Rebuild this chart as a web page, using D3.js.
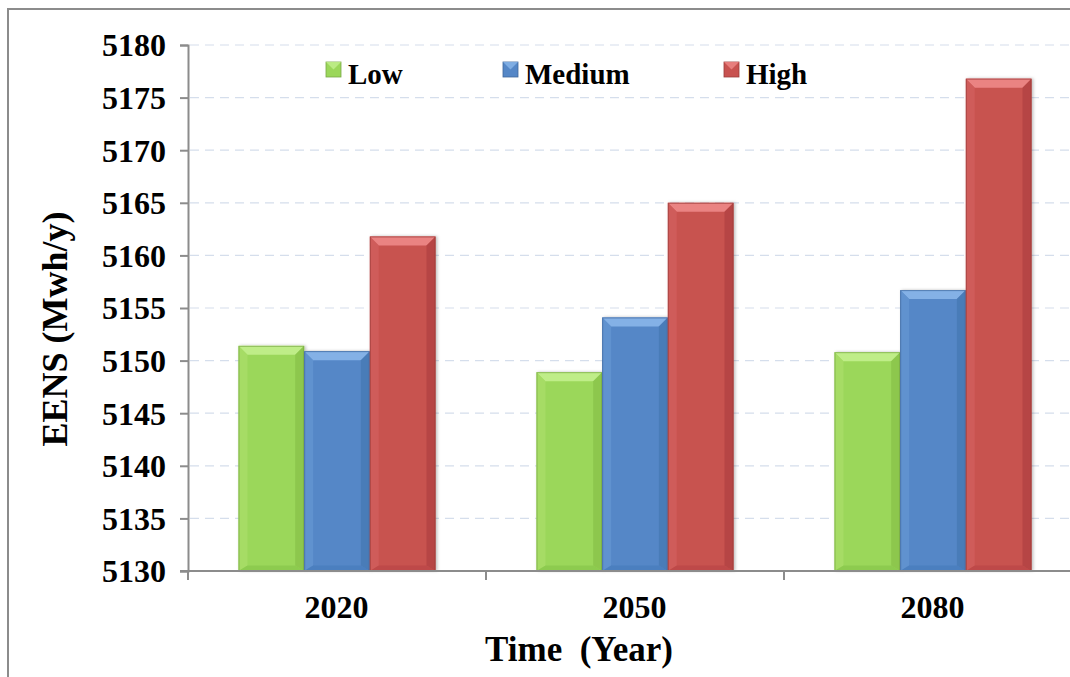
<!DOCTYPE html>
<html>
<head>
<meta charset="utf-8">
<script src="https://cdn.jsdelivr.net/npm/d3@7"></script>
<style>
  html, body { margin: 0; padding: 0; background: #fff; }
  svg { display: block; }
</style>
</head>
<body>
<svg id="chart" width="1070" height="677" font-family="Liberation Serif, Times New Roman, serif" font-weight="bold"></svg>
<script>
// Expected energy not supplied per scenario and year
const years = ["2020", "2050", "2080"];
const scenarios = ["Low", "Medium", "High"];
const lowValues = [5151.4, 5148.9, 5150.8];
const mediumValues = [5150.9, 5154.1, 5156.7];
const highValues = [5161.8, 5165.0, 5176.8];
const yTicks = [5130, 5135, 5140, 5145, 5150, 5155, 5160, 5165, 5170, 5175, 5180];

const FONT = "Liberation Serif, Times New Roman, serif";
const seriesValues = [lowValues, mediumValues, highValues];
const palette = {
  Low:    { base: "#9bd75a", top: "#bfed88", left: "#aee070", right: "#86bf48", bottom: "#8ac84c", edge: "#79a846" },
  Medium: { base: "#5587c7", top: "#84b1e6", left: "#6a9ad6", right: "#4574b0", bottom: "#4a7dbd", edge: "#3f679c" },
  High:   { base: "#c85250", top: "#ea8382", left: "#d66563", right: "#ac3f3d", bottom: "#bb4846", edge: "#9b3c3a" }
};

const svg = d3.select("#chart");
const margin = { left: 188, top: 45, bottom: 571, right: 1082 };

// Outer frame
svg.append("rect")
  .attr("x", 8).attr("y", 9)
  .attr("width", 1100).attr("height", 700)
  .attr("fill", "none").attr("stroke", "#8c8c8c").attr("stroke-width", 2);

const x = d3.scaleBand().domain(years).range([margin.left, margin.right]).paddingInner(0).paddingOuter(0);
const xSub = d3.scaleBand().domain(scenarios).range([50.5, x.bandwidth() - 50.5]).padding(0);
const y = d3.scaleLinear().domain([5130, 5180]).range([margin.bottom, margin.top]);

// Dashed horizontal gridlines
svg.append("g")
  .selectAll("line")
  .data(yTicks.filter(t => t !== 5130))
  .join("line")
  .attr("x1", margin.left + 2).attr("x2", 1070)
  .attr("y1", d => y(d)).attr("y2", d => y(d))
  .attr("stroke", "#d5deec").attr("stroke-width", 1.2)
  .attr("stroke-dasharray", "9,6");

// Bars with a bevelled look
const defs = svg.append("defs");
const shadow = defs.append("filter").attr("id", "barShadow").attr("x", "-20%").attr("y", "-5%").attr("width", "140%").attr("height", "110%");
shadow.append("feDropShadow").attr("dx", 1.5).attr("dy", 0).attr("stdDeviation", 1.5).attr("flood-color", "#000").attr("flood-opacity", 0.25);

const bars = [];
years.forEach((yr, i) => {
  scenarios.forEach((s, j) => {
    bars.push({ year: yr, scenario: s, value: seriesValues[j][i] });
  });
});

const barG = svg.append("g")
  .selectAll("g")
  .data(bars)
  .join("g")
  .attr("filter", "url(#barShadow)");

const bev = 9;
barG.each(function (d) {
  const g = d3.select(this);
  const c = palette[d.scenario];
  const x0 = x(d.year) + xSub(d.scenario);
  const w = xSub.bandwidth();
  const x1 = x0 + w;
  const y0 = y(d.value);
  const y1 = y(5130);
  g.append("rect").attr("x", x0).attr("y", y0).attr("width", w).attr("height", y1 - y0).attr("fill", c.base);
  const poly = (pts, fill, op) => g.append("polygon")
    .attr("points", pts.map(p => p.join(",")).join(" "))
    .attr("fill", fill).attr("opacity", op);
  // top bevel
  poly([[x0, y0], [x1, y0], [x1 - bev, y0 + bev], [x0 + bev, y0 + bev]], c.top, 1);
  // left bevel
  poly([[x0, y0], [x0 + bev, y0 + bev], [x0 + bev, y1 - bev * 0.6], [x0, y1]], c.left, 0.55);
  // right bevel
  poly([[x1, y0], [x1 - bev, y0 + bev], [x1 - bev, y1 - bev * 0.6], [x1, y1]], c.right, 0.65);
  // bottom bevel
  poly([[x0, y1], [x0 + bev, y1 - bev * 0.6], [x1 - bev, y1 - bev * 0.6], [x1, y1]], c.bottom, 0.8);
  g.append("rect").attr("x", x0 + 0.5).attr("y", y0 + 0.5).attr("width", w - 1).attr("height", y1 - y0 - 1)
    .attr("fill", "none").attr("stroke", c.edge).attr("stroke-width", 1).attr("opacity", 0.7);
});

// Y axis
const yAxis = d3.axisLeft(y).tickValues(yTicks).tickSize(8).tickPadding(14).tickFormat(d3.format("d"));
const yAxisG = svg.append("g").attr("transform", `translate(${margin.left},0)`).call(yAxis)
  .attr("font-family", FONT).attr("font-size", 32).attr("font-weight", "bold");
yAxisG.select(".domain").attr("stroke", "#8c8c8c").attr("stroke-width", 2);
yAxisG.selectAll(".tick line").attr("stroke", "#8c8c8c").attr("stroke-width", 2);
yAxisG.selectAll(".tick text").attr("fill", "#000").attr("dy", "0.34em");

// X axis: domain line plus boundary ticks between categories
const xAxisG = svg.append("g").attr("transform", `translate(0,${margin.bottom})`)
  .attr("font-family", FONT).attr("font-weight", "bold");
xAxisG.append("line").attr("x1", margin.left - 8).attr("x2", 1070).attr("y1", 0).attr("y2", 0)
  .attr("stroke", "#8c8c8c").attr("stroke-width", 2);
xAxisG.selectAll("line.bound")
  .data(years.map(yr => x(yr)).concat([x(years[years.length - 1]) + x.bandwidth()]))
  .join("line").attr("class", "bound")
  .attr("x1", d => d).attr("x2", d => d).attr("y1", 0).attr("y2", 9)
  .attr("stroke", "#8c8c8c").attr("stroke-width", 2);
xAxisG.selectAll("text.cat")
  .data(years)
  .join("text").attr("class", "cat")
  .attr("x", d => x(d) + x.bandwidth() / 2 - 0.5)
  .attr("y", 47)
  .attr("text-anchor", "middle")
  .attr("font-size", 32)
  .attr("fill", "#000")
  .text(d => d);

// Axis titles
svg.append("text")
  .attr("transform", "translate(67,329) rotate(-90)")
  .attr("text-anchor", "middle")
  .attr("font-family", FONT).attr("font-weight", "bold")
  .attr("font-size", 36)
  .attr("fill", "#000")
  .text("EENS (Mwh/y)");

svg.append("text")
  .attr("x", 579).attr("y", 661)
  .attr("text-anchor", "middle")
  .attr("font-family", FONT).attr("font-weight", "bold")
  .attr("font-size", 35)
  .attr("fill", "#000")
  .attr("xml:space", "preserve")
  .text("Time  (Year)");

// Legend
const legendX = [326, 503, 724];
const legend = svg.append("g")
  .selectAll("g")
  .data(scenarios)
  .join("g")
  .attr("transform", (d, i) => `translate(${legendX[i]},62)`);
legend.append("rect").attr("width", 15).attr("height", 15).attr("fill", d => palette[d].base)
  .attr("stroke", d => palette[d].edge).attr("stroke-width", 0.8);
legend.append("polygon")
  .attr("points", "0,0 15,0 7.5,7.5")
  .attr("fill", d => palette[d].top).attr("opacity", 0.9);
legend.append("text")
  .attr("x", 22).attr("y", 22)
  .attr("font-family", FONT).attr("font-weight", "bold")
  .attr("font-size", 29)
  .attr("fill", "#000")
  .text(d => d);
</script>
</body>
</html>
